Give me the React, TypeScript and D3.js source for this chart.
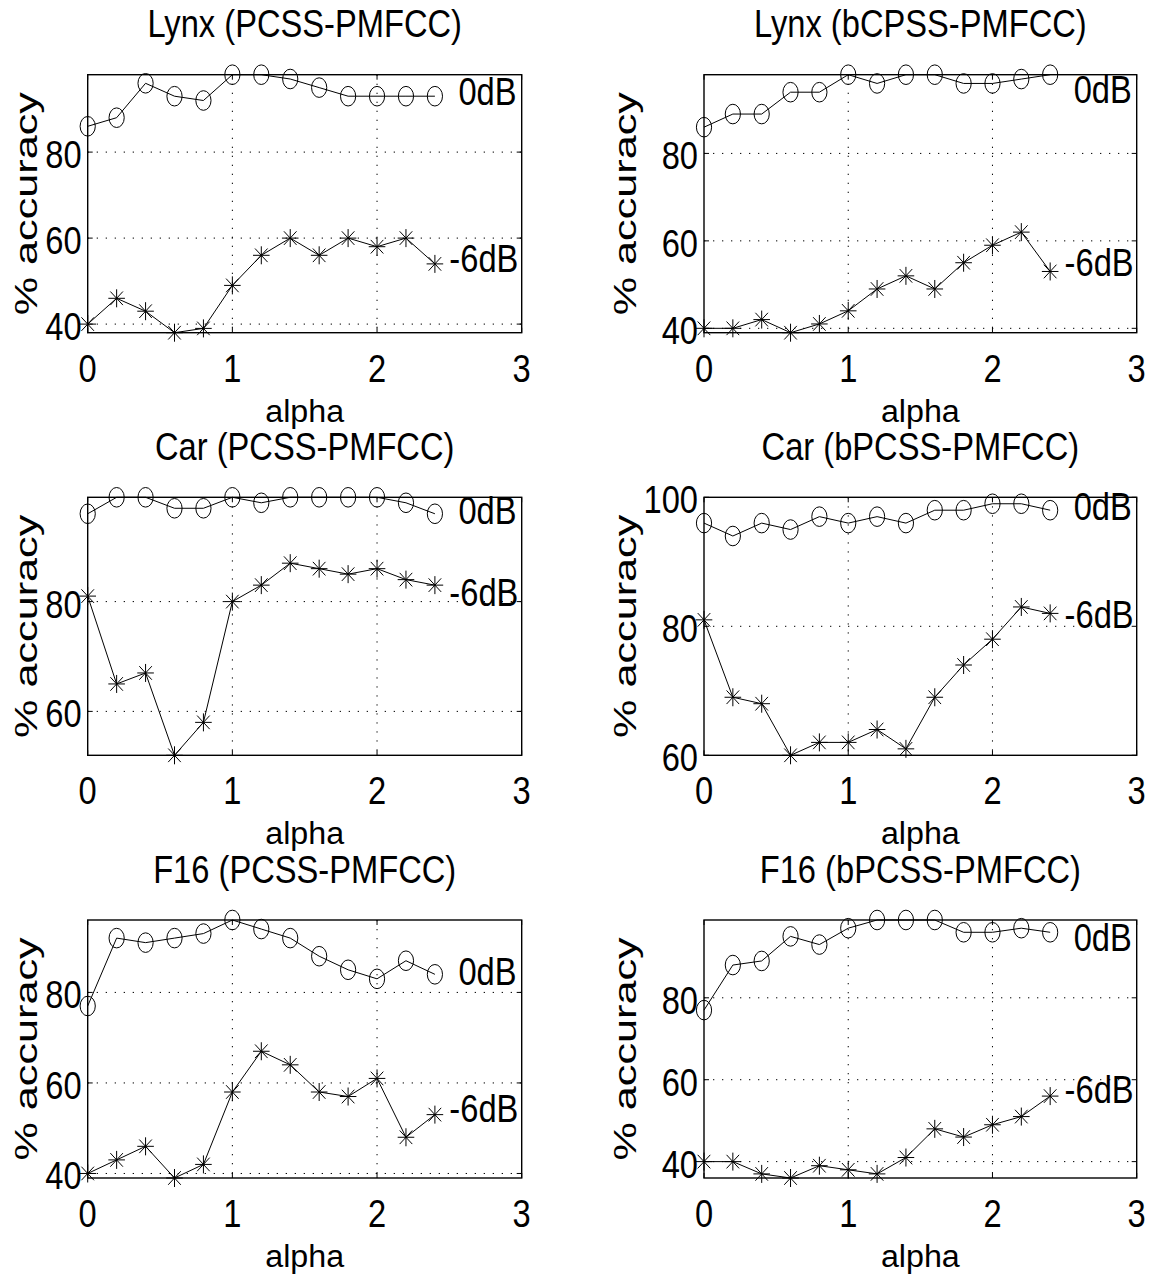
import React from "react";
import * as d3 from "d3";

// ---------- data ----------
const alphaValues = [0, 0.2, 0.4, 0.6, 0.8, 1.0, 1.2, 1.4, 1.6, 1.8, 2.0, 2.2, 2.4];

const lynxPcss0dB = [86, 88, 96, 93, 92, 98, 98, 97, 95, 93, 93, 93, 93];
const lynxPcss6dB = [40, 46, 43, 38, 39, 49, 56, 60, 56, 60, 58, 60, 54];
const lynxBpcss0dB = [86, 89, 89, 94, 94, 98, 96, 98, 98, 96, 96, 97, 98];
const lynxBpcss6dB = [40, 40, 42, 39, 41, 44, 49, 52, 49, 55, 59, 62, 53];
const carPcss0dB = [96, 99, 99, 97, 97, 99, 98, 99, 99, 99, 99, 98, 96];
const carPcss6dB = [81, 65, 67, 52, 58, 80, 83, 87, 86, 85, 86, 84, 83];
const carBpcss0dB = [96, 94, 96, 95, 97, 96, 97, 96, 98, 98, 99, 99, 98];
const carBpcss6dB = [81, 69, 68, 60, 62, 62, 64, 61, 69, 74, 78, 83, 82];
const f16Pcss0dB = [77, 92, 91, 92, 93, 96, 94, 92, 88, 85, 83, 87, 84];
const f16Pcss6dB = [40, 43, 46, 39, 42, 58, 67, 64, 58, 57, 61, 48, 53];
const f16Bpcss0dB = [77, 88, 89, 95, 93, 97, 99, 99, 99, 96, 96, 97, 96];
const f16Bpcss6dB = [40, 40, 37, 36, 39, 38, 37, 41, 48, 46, 49, 51, 56];

const panelTitles = [
  "Lynx (PCSS-PMFCC)",
  "Lynx (bCPSS-PMFCC)",
  "Car (PCSS-PMFCC)",
  "Car (bPCSS-PMFCC)",
  "F16 (PCSS-PMFCC)",
  "F16 (bPCSS-PMFCC)",
];
const series0dB = [lynxPcss0dB, lynxBpcss0dB, carPcss0dB, carBpcss0dB, f16Pcss0dB, f16Bpcss0dB];
const series6dB = [lynxPcss6dB, lynxBpcss6dB, carPcss6dB, carBpcss6dB, f16Pcss6dB, f16Bpcss6dB];
const yDomains = [
  [38, 98],
  [39, 98],
  [52, 99],
  [60, 100],
  [39, 96],
  [36, 99],
];
const yTickValues = [
  [40, 60, 80],
  [40, 60, 80],
  [60, 80],
  [60, 80, 100],
  [40, 60, 80],
  [40, 60, 80],
];
const xTickValues = [0, 1, 2, 3];
const xDomain = [0, 3];
const seriesLabels = [" 0dB", "-6dB"];
const labelX = 2.5;
const label0dBY = [93, 93.4, 95.6, 97.8, 83.5, 93.4];
const label6dBY = [54, 54, 80.8, 81, 53.3, 56.3];
const xLabel = "alpha";
const yLabel = "% accuracy";

// ---------- layout ----------
const W = 1150;
const H = 1284;
const colLeft = [87.7, 704];
const colWidth = [434, 432.7];
const rowTop = [74.7, 497.3, 920];
const plotH = 258;
const yLabelX = [37, 636];
const FONT = "'Liberation Sans', Arial, Helvetica, sans-serif";

function SText({ x, y, size, sx = 1, anchor = "start", rotate = 0, children }) {
  return (
    <text
      transform={`translate(${x},${y}) rotate(${rotate}) scale(${sx},1)`}
      textAnchor={anchor}
      fontSize={size}
      fontFamily={FONT}
      fill="#000"
      style={{ whiteSpace: "pre" }}
    >
      {children}
    </text>
  );
}

function Star({ cx, cy }) {
  const a = 8.3;
  const b = 9;
  const d = 6.3;
  const e = 6.8;
  return (
    <g stroke="#000" strokeWidth={1} fill="none">
      <line x1={cx} y1={cy - b} x2={cx} y2={cy + b} />
      <line x1={cx - a} y1={cy} x2={cx + a} y2={cy} />
      <line x1={cx - d} y1={cy - e} x2={cx + d} y2={cy + e} />
      <line x1={cx - d} y1={cy + e} x2={cx + d} y2={cy - e} />
    </g>
  );
}

function Panel({ idx }) {
  const col = idx % 2;
  const row = Math.floor(idx / 2);
  const left = colLeft[col];
  const top = rowTop[row];
  const width = colWidth[col];
  const x = d3.scaleLinear().domain(xDomain).range([left, left + width]);
  const y = d3.scaleLinear().domain(yDomains[idx]).range([top + plotH, top]);
  const bottom = top + plotH;
  const right = left + width;
  const line = d3
    .line()
    .x((d) => x(d[0]))
    .y((d) => y(d[1]));
  const pts0 = alphaValues.map((a, i) => [a, series0dB[idx][i]]);
  const pts6 = alphaValues.map((a, i) => [a, series6dB[idx][i]]);
  const tickLen = 5;
  const cx = (left + right) / 2;
  const cy = (top + bottom) / 2;
  return (
    <g>
      {/* grid */}
      <g stroke="#000" strokeWidth={1} strokeDasharray="1.3 7.7">
        {yTickValues[idx]
          .filter((t) => y(t) > top + 1 && y(t) < bottom - 1)
          .map((t) => (
            <line key={"gy" + t} x1={left} x2={right} y1={y(t)} y2={y(t)} />
          ))}
        {xTickValues
          .filter((t) => x(t) > left + 1 && x(t) < right - 1)
          .map((t) => (
            <line key={"gx" + t} x1={x(t)} x2={x(t)} y1={top} y2={bottom} />
          ))}
      </g>
      {/* ticks */}
      <g stroke="#000" strokeWidth={1}>
        {xTickValues.map((t) => (
          <g key={"tx" + t}>
            <line x1={x(t)} x2={x(t)} y1={bottom} y2={bottom - tickLen} />
            <line x1={x(t)} x2={x(t)} y1={top} y2={top + tickLen} />
          </g>
        ))}
        {yTickValues[idx].map((t) => (
          <g key={"ty" + t}>
            <line x1={left} x2={left + tickLen} y1={y(t)} y2={y(t)} />
            <line x1={right} x2={right - tickLen} y1={y(t)} y2={y(t)} />
          </g>
        ))}
      </g>
      {/* box */}
      <rect x={left} y={top} width={width} height={plotH} fill="none" stroke="#000" strokeWidth={1.4} />
      {/* lines */}
      <path d={line(pts0)} fill="none" stroke="#000" strokeWidth={1} />
      <path d={line(pts6)} fill="none" stroke="#000" strokeWidth={1} />
      {pts0.map((p, i) => (
        <ellipse key={"c" + i} cx={x(p[0])} cy={y(p[1])} rx={7.6} ry={9.8} fill="none" stroke="#000" strokeWidth={1} />
      ))}
      {pts6.map((p, i) => (
        <Star key={"s" + i} cx={x(p[0])} cy={y(p[1])} />
      ))}
      {/* series labels */}
      <SText x={x(labelX)} y={y(label0dBY[idx]) + 8.5} size={38} sx={0.86}>
        {seriesLabels[0]}
      </SText>
      <SText x={x(labelX)} y={y(label6dBY[idx]) + 8.5} size={38} sx={0.86}>
        {seriesLabels[1]}
      </SText>
      {/* tick labels */}
      {xTickValues.map((t) => (
        <SText key={"lx" + t} x={x(t)} y={bottom + 49} size={38} sx={0.86} anchor="middle">
          {String(t)}
        </SText>
      ))}
      {yTickValues[idx].map((t) => (
        <SText key={"ly" + t} x={left - 6} y={y(t) + 16} size={38} sx={0.86} anchor="end">
          {String(t)}
        </SText>
      ))}
      {/* axis labels & title */}
      <SText x={cx} y={bottom + 89} size={31} sx={1.04} anchor="middle">
        {xLabel}
      </SText>
      <SText x={yLabelX[col]} y={cy} size={32} sx={1.35} anchor="middle" rotate={-90}>
        {yLabel}
      </SText>
      <SText x={cx} y={top - 37.4} size={38} sx={0.86} anchor="middle">
        {panelTitles[idx]}
      </SText>
    </g>
  );
}

export default function App() {
  return (
    <svg width={W} height={H} viewBox={`0 0 ${W} ${H}`} style={{ display: "block", position: "absolute", left: 0, top: 0, background: "#fff" }}>
      <rect x={0} y={0} width={W} height={H} fill="#fff" />
      {panelTitles.map((_, i) => (
        <Panel key={i} idx={i} />
      ))}
    </svg>
  );
}
